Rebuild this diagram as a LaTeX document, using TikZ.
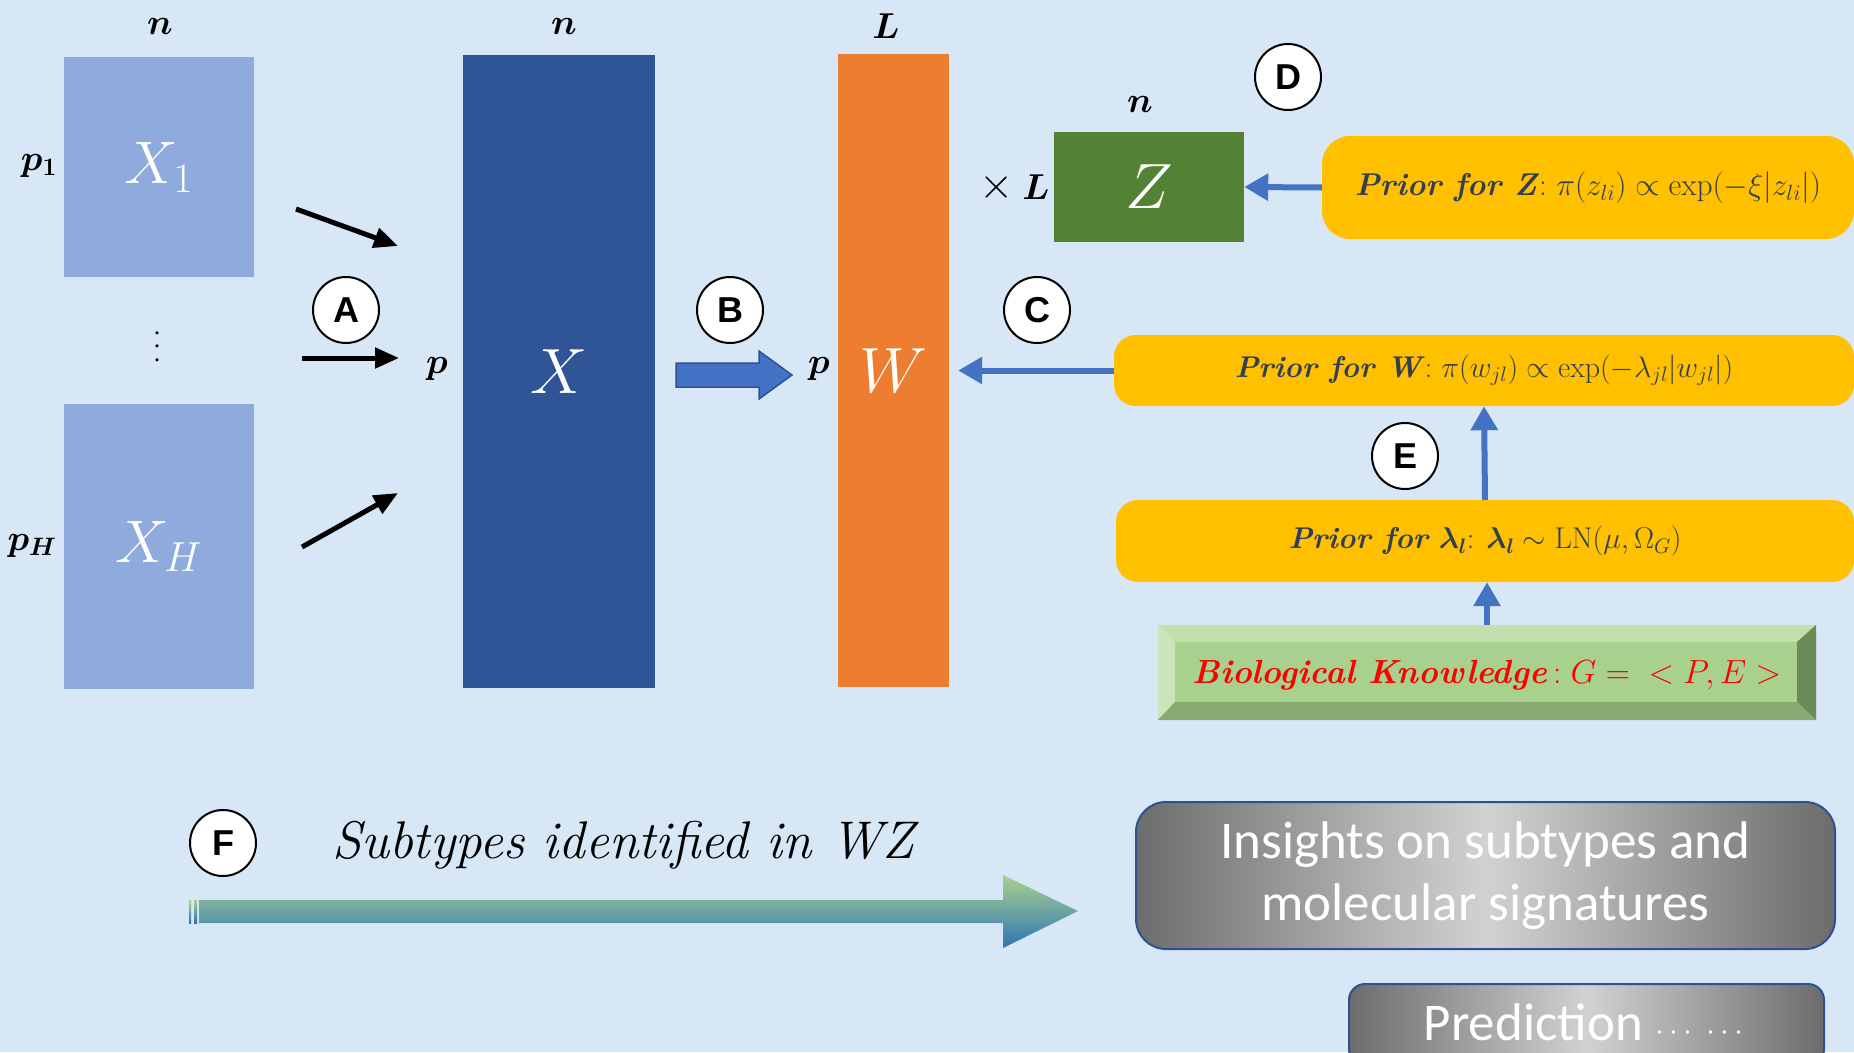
\RequirePackage{fix-cm}
\documentclass[tikz,border=0pt]{standalone}
\usepackage{amsmath,bm,graphicx}
\usepackage{fontspec}
\newfontfamily\calfont{Carlito}
\newfontfamily\arialfont{Liberation Sans}
\usetikzlibrary{arrows.meta,calc}
\definecolor{bg}{HTML}{D7E7F6}
\definecolor{lightblue}{HTML}{8FAADC}
\definecolor{darkblue}{HTML}{2F5597}
\definecolor{orangeW}{HTML}{ED7D31}
\definecolor{greenZ}{HTML}{548235}
\definecolor{gold}{HTML}{FFC000}
\definecolor{slate}{HTML}{333F50}
\definecolor{arrowblue}{HTML}{4472C4}
\definecolor{arrowborder}{HTML}{2F528F}
\definecolor{bevelmid}{HTML}{A9D18E}
\definecolor{beveltop}{HTML}{C3DFAE}
\definecolor{bevelleft}{HTML}{CBE4BA}
\definecolor{bevelright}{HTML}{6B8C56}
\definecolor{bevelbot}{HTML}{89A972}
\definecolor{grayedge}{HTML}{6C6C6C}
\definecolor{graymid}{HTML}{D2D2D2}
\definecolor{arrgreen}{HTML}{A9D18E}
\definecolor{arrblue}{HTML}{2E75B6}
\tikzset{
  matbox/.style={inner sep=0pt, text=white, font=\fontsize{60}{60}\selectfont},
  dimlab/.style={inner sep=0pt, font=\fontsize{36}{36}\selectfont},
  letter/.style={circle, draw=black, line width=2pt, fill=white, minimum size=66pt, inner sep=0pt, font=\arialfont\bfseries\fontsize{36}{36}\selectfont},
  prior/.style={rounded corners=28pt, fill=gold, inner sep=0pt, text=slate, font=\fontsize{30}{30}\selectfont},
  blackarr/.style={line width=5pt, -{Triangle[length=24pt,width=20pt]}},
  bluearr/.style={line width=6pt, draw=arrowblue, -{Triangle[length=24pt,width=26pt]}},
  graybox/.style={rounded corners=30pt, draw=arrowborder, line width=2pt, left color=grayedge, right color=grayedge, middle color=graymid, text=white, align=center, font=\calfont\fontsize{53}{62}\selectfont}
}
\begin{document}
\begin{tikzpicture}[x=1pt,y=-1pt]
\fill[bg] (0,0) rectangle (1854,1052);
\useasboundingbox (0,0) rectangle (1854,1052);
\clip (0,0) rectangle (1854,1052);

% input blocks
\node[matbox, fill=lightblue, minimum width=190pt, minimum height=220pt] (X1) at (159,167) {$X_1$};
\node[matbox, fill=lightblue, minimum width=190pt, minimum height=285pt] (XH) at (159,546.5) {$X_H$};
\node[dimlab] (n1) at (160,26) {$\boldsymbol{n}$};
\node[dimlab] (p1) at (39,166) {$\boldsymbol{p_1}$};
\node[dimlab] (pH) at (32,546) {$\boldsymbol{p_H}$};
\node[inner sep=0pt, font=\fontsize{30}{30}\selectfont] (dots) at (158,344) {\rotatebox{90}{$\cdots$}};

% combined X
\node[matbox, fill=darkblue, minimum width=192pt, minimum height=633pt, font=\fontsize{64}{64}\selectfont] (X) at (559,371.5) {$X$};
\node[dimlab] (n2) at (564,26) {$\boldsymbol{n}$};
\node[dimlab] (pX) at (437,369) {$\boldsymbol{p}$};

% W
\node[matbox, fill=orangeW, minimum width=111pt, minimum height=633pt, font=\fontsize{64}{64}\selectfont] (W) at (893.5,370.5) {$W$};
\node[dimlab] (LW) at (886,26) {$\boldsymbol{L}$};
\node[dimlab] (pW) at (819,369) {$\boldsymbol{p}$};

% Z
\node[matbox, fill=greenZ, minimum width=190pt, minimum height=110pt, font=\fontsize{64}{64}\selectfont] (Z) at (1149,187) {$Z$};
\node[dimlab] (n3) at (1140,104) {$\boldsymbol{n}$};
\node[dimlab, font=\fontsize{44}{44}\selectfont] (times) at (997,187) {$\times$};
\node[dimlab] (LZ) at (1036,187) {$\boldsymbol{L}$};

% arrows A
\coordinate (a1s) at (296,209); \coordinate (a1e) at (398,246);
\coordinate (a2s) at (302,358); \coordinate (a2e) at (399,358);
\coordinate (a3s) at (302,547); \coordinate (a3e) at (398,493);
\draw[blackarr] (a1s) -- (a1e);
\draw[blackarr] (a2s) -- (a2e);
\draw[blackarr] (a3s) -- (a3e);

% block arrow B
\draw[fill=arrowblue, draw=arrowborder, line width=1.5pt]
  (676,363) -- (759,363) -- (759,351) -- (792,375) -- (759,399) -- (759,387) -- (676,387) -- cycle;

% priors
\node[prior, minimum width=532pt, minimum height=103pt, font=\fontsize{31.5}{31.5}\selectfont] (PZ) at (1588,187.5)
  {\textbf{\textit{Prior for Z}}: $\pi(z_{li})\propto\exp(-\xi|z_{li}|)$};
\node[prior, rounded corners=22pt, minimum width=740pt, minimum height=71pt] (PW) at (1484,370.5)
  {\textbf{\textit{Prior for W}}: $\pi(w_{jl})\propto\exp(-\lambda_{jl}|w_{jl}|)$};
\node[prior, rounded corners=22pt, minimum width=738pt, minimum height=82pt] (PL) at (1485,541)
  {\textbf{\textit{Prior for}} $\boldsymbol{\lambda_l}$: $\boldsymbol{\lambda_l}\sim\mathrm{LN}(\mu,\Omega_G)$};

% bevel box
\node[fill=bevelmid, minimum width=658pt, minimum height=95pt, inner sep=0pt] (Bio) at (1487,672.5) {};
\fill[beveltop] (Bio.north west) -- (Bio.north east) -- ($(Bio.north east)+(-19,17)$) -- ($(Bio.north west)+(17,17)$) -- cycle;
\fill[bevelleft] (Bio.north west) -- ($(Bio.north west)+(17,17)$) -- ($(Bio.south west)+(17,-18)$) -- (Bio.south west) -- cycle;
\fill[bevelright] (Bio.north east) -- (Bio.south east) -- ($(Bio.south east)+(-19,-18)$) -- ($(Bio.north east)+(-19,17)$) -- cycle;
\fill[bevelbot] (Bio.south west) -- ($(Bio.south west)+(17,-18)$) -- ($(Bio.south east)+(-19,-18)$) -- (Bio.south east) -- cycle;
\node[text=red, inner sep=0pt, font=\fontsize{33.5}{33.5}\selectfont] (BioT) at (1487,675)
  {\textbf{\textit{Biological Knowledge}}$\,:G={}<P,E>$};

% blue arrows
\draw[bluearr] (PZ.west) -- (Z.east);
\draw[bluearr, shorten >=9pt] (PW.west) -- (PW.west -| W.east);
\draw[bluearr] (PL.north) -- (PW.south);
\draw[bluearr] (Bio.north) -- (Bio.north |- PL.south);

% letters
\node[letter] (A) at (346,310) {A};
\node[letter] (B) at (730,310) {B};
\node[letter] (C) at (1037,310) {C};
\node[letter] (D) at (1288,77) {D};
\node[letter] (E) at (1405,456) {E};
\node[letter] (F) at (223,843) {F};

% subtypes
\node[inner sep=0pt, font=\itshape\fontsize{53}{53}\selectfont] (sub) at (623,845) {Subtypes identified in WZ};
\shade[top color=arrgreen, bottom color=arrblue]
  (199,900) -- (1003,900) -- (1003,875) -- (1078,911) -- (1003,948) -- (1003,923) -- (199,923) -- cycle;
\shade[top color=arrgreen, bottom color=arrblue] (189,900) rectangle (191,923);
\shade[top color=arrgreen, bottom color=arrblue] (194,900) rectangle (197,923);

% outcomes
\node[graybox, minimum width=699pt, minimum height=147pt, inner sep=0pt] (Ins) at (1485.5,875.5)
  {\raisebox{-4pt}{\parbox{690pt}{\centering Insights on subtypes and\\molecular signatures}}};
\node[graybox, rounded corners=16pt, minimum width=475pt, minimum height=81pt, inner sep=0pt] (Pred) at (1586.5,1024.5)
  {\raisebox{5pt}{Prediction {\fontsize{32}{32}\selectfont$\cdots\;\cdots$}}};
\end{tikzpicture}
\end{document}
